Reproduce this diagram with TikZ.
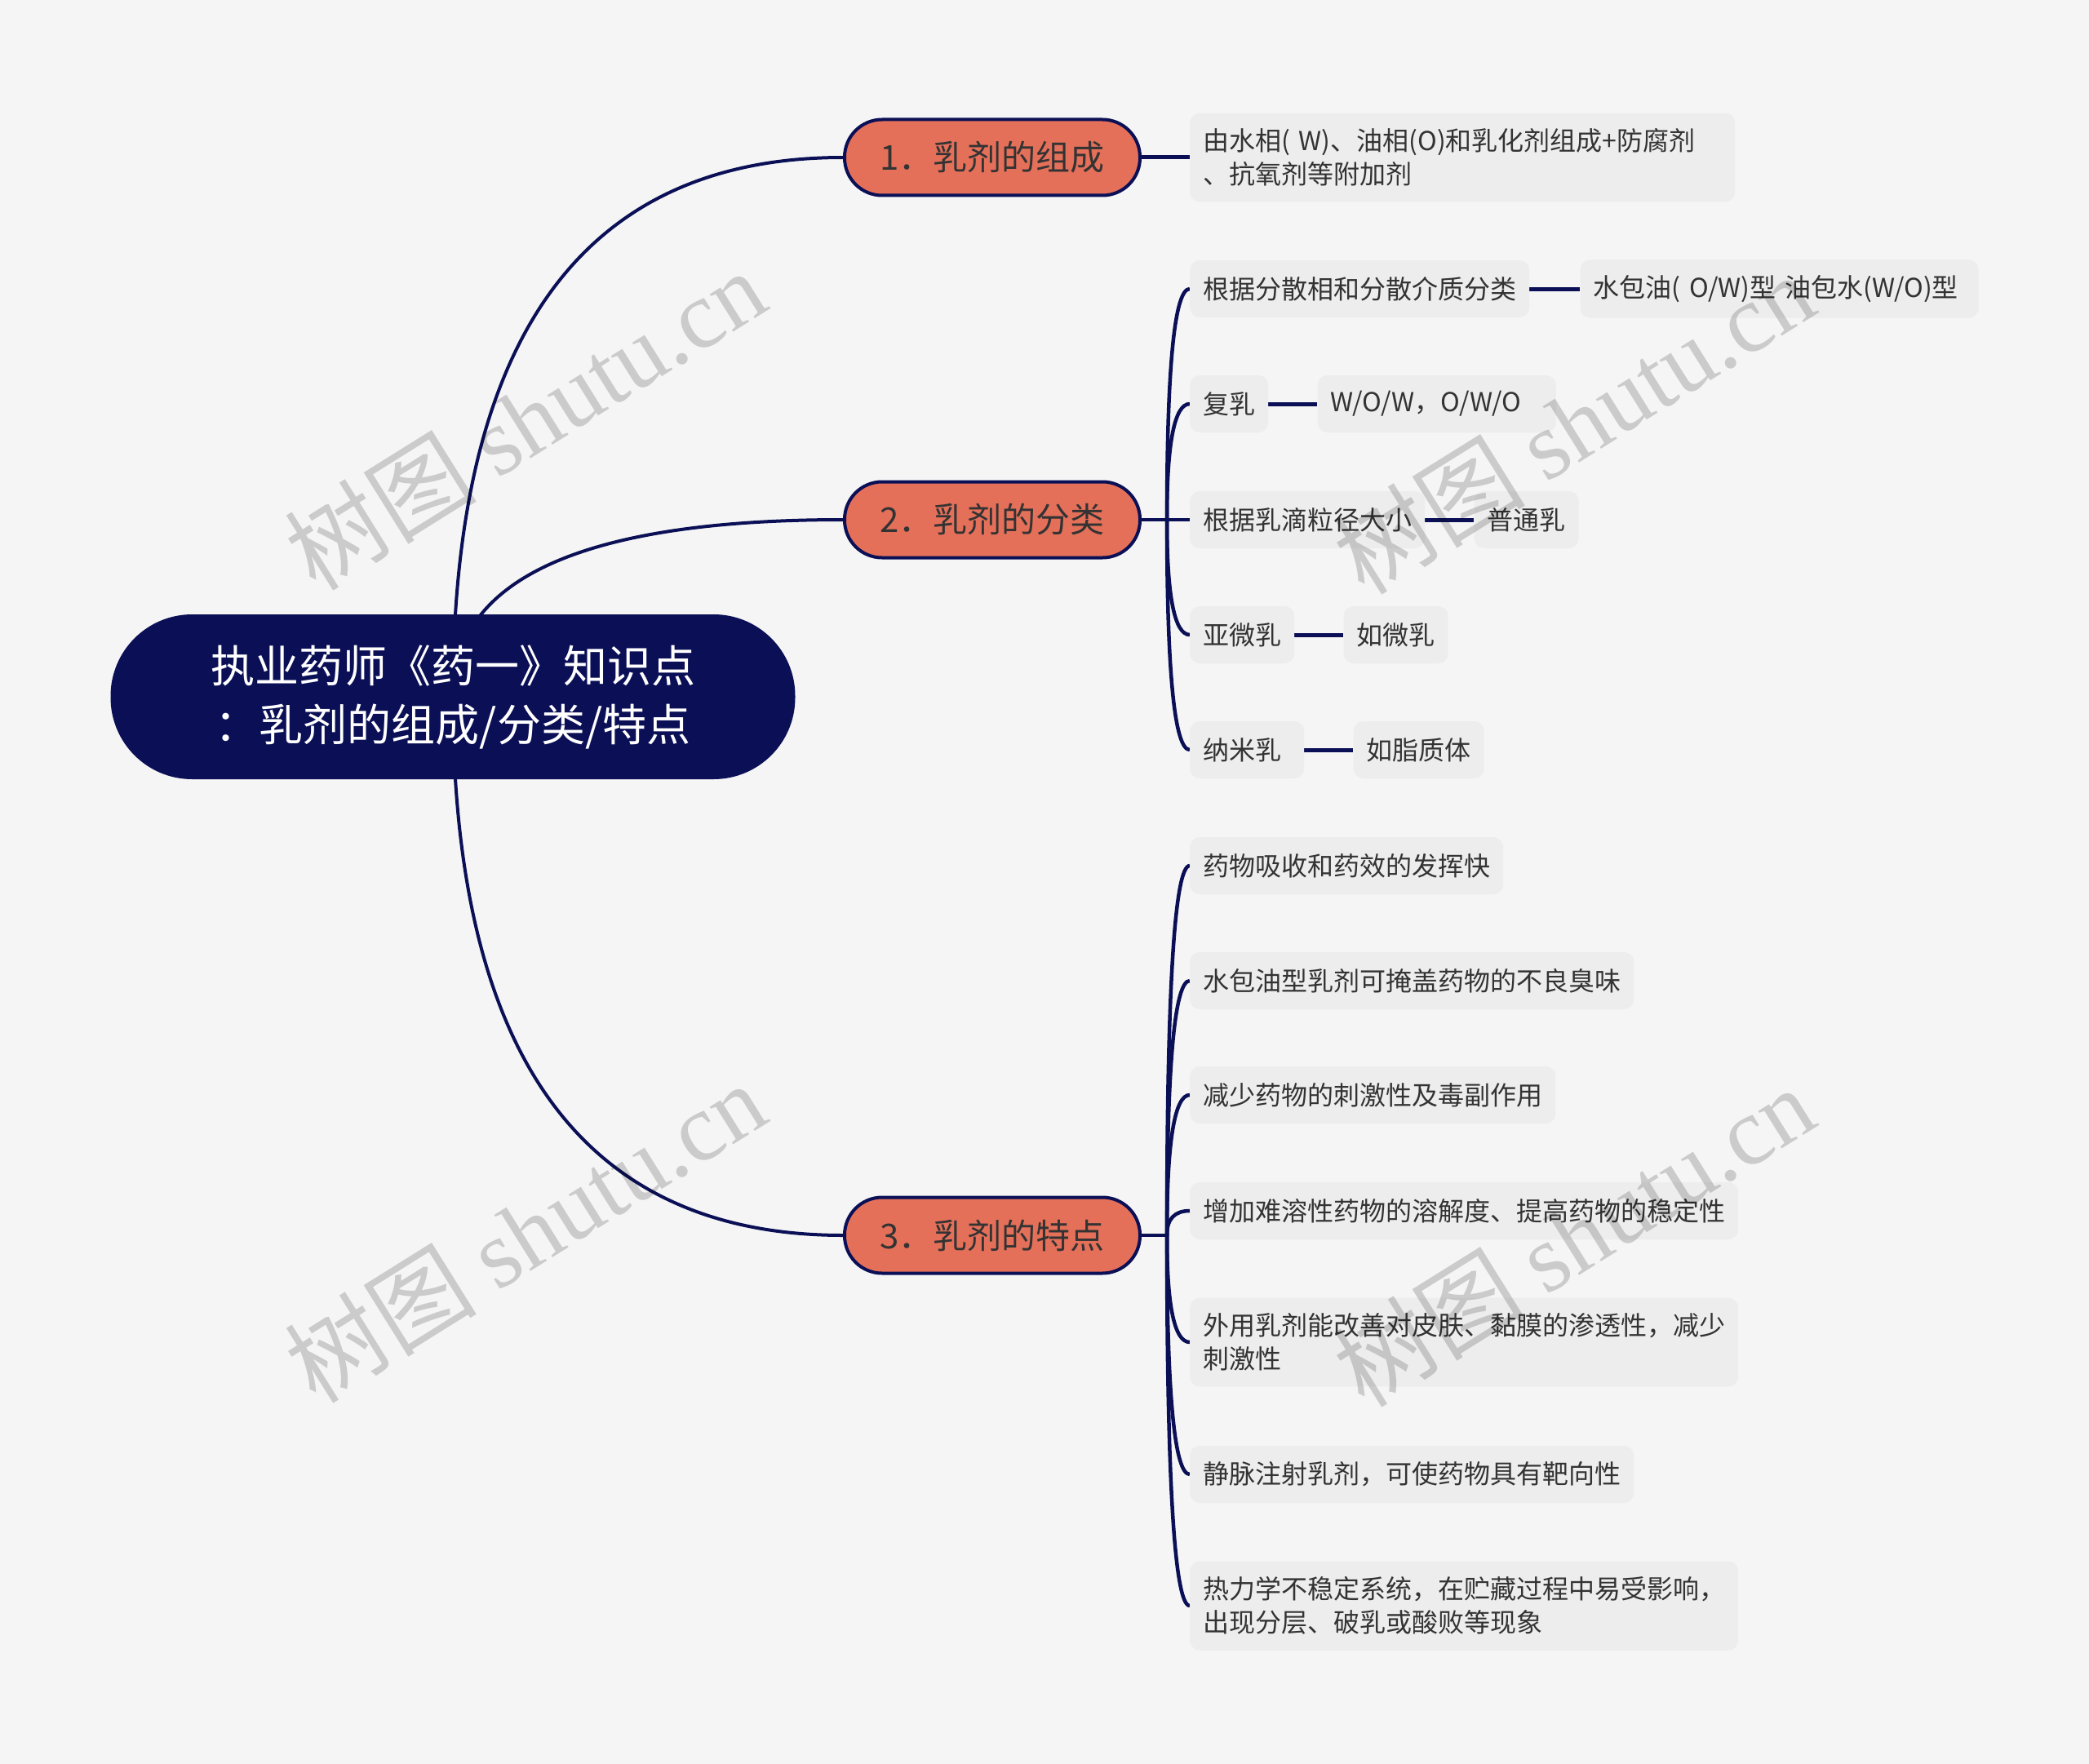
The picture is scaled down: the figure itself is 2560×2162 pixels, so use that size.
\documentclass[tikz,border=0pt]{standalone}
\usepackage{fontspec}
\setmainfont{Noto Sans CJK SC}
\newfontfamily\wmserif{Liberation Serif}
\usetikzlibrary{calc}

\definecolor{bgc}{HTML}{F5F5F5}
\definecolor{navy}{HTML}{0B1056}
\definecolor{salmon}{HTML}{E5705A}
\definecolor{leafbg}{HTML}{EDEDED}
\definecolor{txt}{HTML}{333333}

\pgfdeclarelayer{bglayer}
\pgfdeclarelayer{edgelayer}
\pgfsetlayers{bglayer,edgelayer,main}

\tikzset{
  rootbox/.style={fill=navy, text=white, rounded corners=100pt, minimum width=839pt,
    minimum height=202pt, align=center, font=\fontsize{54}{72}\selectfont, inner sep=0pt},
  mainbox/.style={fill=salmon, draw=navy, line width=4pt, rounded corners=46pt,
    minimum width=362pt, minimum height=93pt, text=txt,
    font=\fontsize{42}{50}\selectfont, inner sep=0pt},
  leafbox/.style={fill=leafbg, rounded corners=12pt, text=txt,
    font=\fontsize{32}{41}\selectfont, align=left, inner xsep=16pt, inner ysep=19pt,
    minimum height=70pt, anchor=west},
  rootlink/.style={draw=navy, line width=4pt},
  link/.style={draw=navy, line width=4.5pt},
  shortlink/.style={draw=navy, line width=5pt},
  qcurve/.style={to path={.. controls ($(\tikztostart)!2/3!(\tikztostart|-\tikztotarget)$)
     and ($(\tikztotarget)!2/3!(\tikztostart|-\tikztotarget)$) .. (\tikztotarget)}},
  wm/.style={text=black, text opacity=0.17, rotate=32, inner sep=0pt,
    font=\fontsize{118}{118}\selectfont}
}

\begin{document}
\begin{tikzpicture}[x=1pt,y=-1pt]
\begin{pgfonlayer}{bglayer}
  \fill[bgc] (0,0) rectangle (2560,2162);
\end{pgfonlayer}
\useasboundingbox (0,0) rectangle (2560,2162);

% root
\node[rootbox] (root) at (555,854) {执业药师《药一》知识点\\：乳剂的组成/分类/特点};

% main topics
\node[mainbox] (n1) at (1216,193) {1．乳剂的组成};
\node[mainbox] (n2) at (1216,637) {2．乳剂的分类};
\node[mainbox] (n3) at (1216,1514) {3．乳剂的特点};

% topic 1
\node[leafbox, text width=636pt] (a1) at (1458,193) {由水相( W)、油相(O)和乳化剂组成+防腐剂\\、抗氧剂等附加剂};

% topic 2
\node[leafbox] (b1) at (1458,354) {根据分散相和分散介质分类};
\node[leafbox, text width=456pt] (b1x) at ($(b1.east)+(62,0)$) {水包油( O/W)型 油包水(W/O)型};
\node[leafbox] (b2) at (1458,495) {复乳};
\node[leafbox, text width=260pt] (b2x) at ($(b2.east)+(60,0)$) {W/O/W，O/W/O};
\node[leafbox] (b3) at (1458,637) {根据乳滴粒径大小};
\node[leafbox] (b3x) at ($(b3.east)+(60,0)$) {普通乳};
\node[leafbox] (b4) at (1458,778) {亚微乳};
\node[leafbox] (b4x) at ($(b4.east)+(60,0)$) {如微乳};
\node[leafbox, text width=108pt] (b5) at (1458,919) {纳米乳};
\node[leafbox] (b5x) at ($(b5.east)+(60,0)$) {如脂质体};

% topic 3
\node[leafbox] (c1) at (1458,1061) {药物吸收和药效的发挥快};
\node[leafbox] (c2) at (1458,1202) {水包油型乳剂可掩盖药物的不良臭味};
\node[leafbox] (c3) at (1458,1342) {减少药物的刺激性及毒副作用};
\node[leafbox] (c4) at (1458,1484) {增加难溶性药物的溶解度、提高药物的稳定性};
\node[leafbox] (c5) at (1458,1645) {外用乳剂能改善对皮肤、黏膜的渗透性，减少\\刺激性};
\node[leafbox] (c6) at (1458,1807) {静脉注射乳剂，可使药物具有靶向性};
\node[leafbox] (c7) at (1458,1968) {热力学不稳定系统，在贮藏过程中易受影响，\\出现分层、破乳或酸败等现象};

\coordinate (h2) at ($(n2.east)+(31,0)$);
\coordinate (h3) at ($(n3.east)+(31,0)$);

\begin{pgfonlayer}{edgelayer}
  \draw[rootlink] (root.center) to[qcurve] (n1.west);
  \draw[rootlink] (root.center) to[qcurve] (n2.west);
  \draw[rootlink] (root.center) to[qcurve] (n3.west);

  \draw[shortlink] (n1.east) -- (a1.west);

  \draw[link] (n2.east) -- (h2);
  \foreach \c in {b1,b2,b4,b5} \draw[link] (h2) to[qcurve] (\c.west);
  \draw[link] (h2) -- (b3.west);
  \draw[shortlink] (b1.east) -- (b1x.west);
  \draw[shortlink] (b2.east) -- (b2x.west);
  \draw[shortlink] (b3.east) -- (b3x.west);
  \draw[shortlink] (b4.east) -- (b4x.west);
  \draw[shortlink] (b5.east) -- (b5x.west);

  \draw[link] (n3.east) -- (h3);
  \foreach \c in {c1,c2,c3,c4,c5,c6,c7} \draw[link] (h3) to[qcurve] (\c.west);
\end{pgfonlayer}

% watermarks
\node[wm] (w1) at (643,514) {树图 {\wmserif shutu.cn}};
\node[wm] (w2) at (1928,519) {树图 {\wmserif shutu.cn}};
\node[wm] (w3) at (643,1510) {树图 {\wmserif shutu.cn}};
\node[wm] (w4) at (1928,1515) {树图 {\wmserif shutu.cn}};
\end{tikzpicture}
\end{document}
